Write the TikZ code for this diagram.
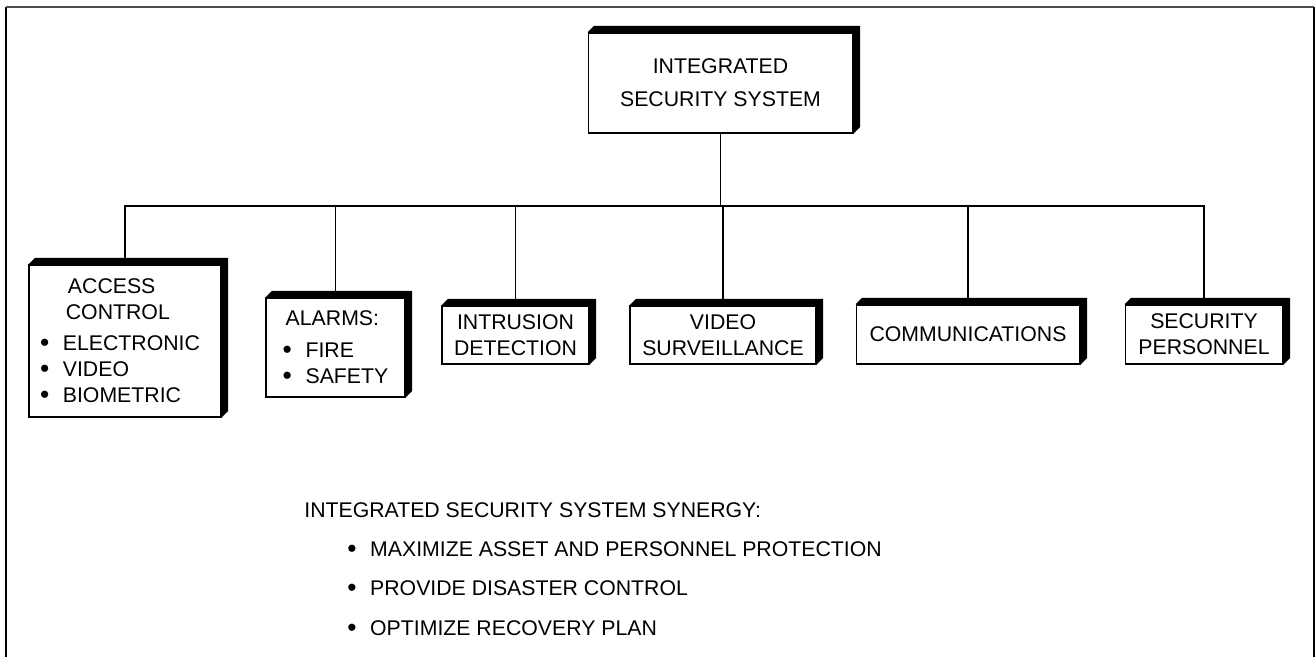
\documentclass[tikz,border=0pt]{standalone}
\usepackage{fontspec}
\setmainfont{Liberation Sans}
\newcommand{\bt}{\makebox[13pt][l]{\raisebox{-0.6pt}{\fontsize{15}{15}\selectfont\textbullet}}}
\newcommand{\dropshade}[1]{\fill(#1.north west)--++(6.5,-6.5)--([shift={(6.5,-6.5)}]#1.north east)--([shift={(6.5,-6.5)}]#1.south east)--(#1.south east)--(#1.north east)--cycle;}

\begin{document}
\begin{tikzpicture}[x=0.02cm,y=-0.02cm,
    box/.style={draw,fill=white,line width=0.6pt,inner sep=0pt,align=center,font=\fontsize{12.1}{14.7}\selectfont},
    txt/.style={inner sep=0pt,font=\fontsize{12.1}{14.7}\selectfont}]
    \useasboundingbox(0,0)rectangle(1315,657);
    % frame
    \draw[line width=1pt](6,657)--(6,7);
    \draw[line width=1pt,gray!60!black](6,7)--(1314,7);
    \draw[line width=1pt](1314,7)--(1314,657);
    % boxes
    \node[box,minimum width=5.3cm,minimum height=2cm](top)at(720.5,83){INTEGRATED\\[4pt]SECURITY SYSTEM};
    \node[box,minimum width=3.84cm,minimum height=3.04cm,align=left](acc)at(125,341){\hspace*{15.9pt}ACCESS\\\hspace*{14.7pt}CONTROL\\[3.4pt]\bt ELECTRONIC\rule{5.7pt}{0pt}\\\bt VIDEO\\\bt BIOMETRIC};
    \node[box,minimum width=2.78cm,minimum height=1.98cm,align=left](alm)at(335.5,347.5){\hspace*{1.7pt}ALARMS:\\[4pt]\bt FIRE\\\bt SAFETY};
    \node[box,minimum width=2.94cm,minimum height=1.16cm](intr)at(515.5,335){INTRUSION\\DETECTION};
    \node[box,minimum width=3.72cm,minimum height=1.16cm](vid)at(723,335){VIDEO\\SURVEILLANCE};
    \node[box,minimum width=4.48cm,minimum height=1.18cm](com)at(968,334.5){COMMUNICATIONS};
    \node[box,minimum width=3.16cm,minimum height=1.18cm](sec)at(1204,334.5){SECURITY\\PERSONNEL};
    % connectors
    \coordinate(bus)at(720,206);
    \draw[line width=0.6pt](top.south)--(top.south|-bus);
    \draw[line width=0.6pt](acc.north)--(acc.north|-bus)--(sec.north|-bus)--(sec.north);
    \draw[line width=0.6pt](alm.north)--(alm.north|-bus);
    \draw[line width=0.6pt](intr.north)--(intr.north|-bus);
    \draw[line width=0.6pt](vid.north)--(vid.north|-bus);
    \draw[line width=0.6pt](com.north)--(com.north|-bus);
    % shadows
    \dropshade{top}
    \dropshade{acc}
    \dropshade{alm}
    \dropshade{intr}
    \dropshade{vid}
    \dropshade{com}
    \dropshade{sec}
    % synergy list
    \node[txt,anchor=base west](syn)at(304,517){INTEGRATED SECURITY SYSTEM SYNERGY:};
    \node[txt,anchor=base west](syn1)at(347,556){\bt MAXIMIZE ASSET AND PERSONNEL PROTECTION};
    \node[txt,anchor=base west](syn2)at(347,595){\bt PROVIDE DISASTER CONTROL};
    \node[txt,anchor=base west](syn3)at(347,635){\bt OPTIMIZE RECOVERY PLAN};
\end{tikzpicture}
\end{document}
